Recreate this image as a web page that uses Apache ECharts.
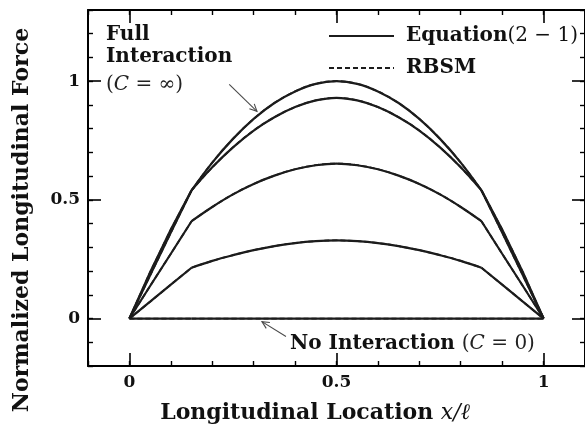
<!DOCTYPE html>
<html>
<head>
<meta charset="utf-8">
<script src="https://cdn.jsdelivr.net/npm/echarts@6/dist/echarts.min.js"></script>
<style>
  html, body { margin: 0; padding: 0; background: #fff; }
  #chart { width: 585px; height: 430px; }
</style>
</head>
<body>
<div id="chart"></div>
<script>
// Longitudinal positions x/l where the force profiles are sampled
const xPos = [0, 0.05, 0.1, 0.15, 0.2, 0.25, 0.3, 0.35, 0.4, 0.45, 0.5,
              0.55, 0.6, 0.65, 0.7, 0.75, 0.8, 0.85, 0.9, 0.95, 1];

// Normalized longitudinal force, one profile per interaction level
const fullInteraction = [0, 0.195, 0.375, 0.54, 0.657, 0.757, 0.841, 0.908, 0.957, 0.989, 1.0,
                         0.989, 0.957, 0.908, 0.841, 0.757, 0.657, 0.54, 0.375, 0.195, 0];
const highInteraction = [0, 0.182, 0.362, 0.54, 0.637, 0.721, 0.792, 0.848, 0.891, 0.919, 0.93,
                         0.919, 0.891, 0.848, 0.792, 0.721, 0.637, 0.54, 0.362, 0.182, 0];
const midInteraction  = [0, 0.137, 0.273, 0.41, 0.47, 0.523, 0.567, 0.602, 0.629, 0.646, 0.653,
                         0.646, 0.629, 0.602, 0.567, 0.523, 0.47, 0.41, 0.273, 0.137, 0];
const lowInteraction  = [0, 0.071, 0.143, 0.214, 0.243, 0.267, 0.288, 0.305, 0.318, 0.326, 0.329,
                         0.326, 0.318, 0.305, 0.288, 0.267, 0.243, 0.214, 0.143, 0.071, 0];
const noInteraction   = [0, 0, 0, 0, 0, 0, 0, 0, 0, 0, 0,
                         0, 0, 0, 0, 0, 0, 0, 0, 0, 0];

const profiles = [fullInteraction, highInteraction, midInteraction, lowInteraction, noInteraction];

// Tick values and their labels
const xMajorTicks = [0, 0.5, 1];
const yMajorTicks = [0, 0.5, 1];
const xTickLabels = ['0', '0.5', '1'];
const yTickLabels = ['0', '0.5', '1'];

const EQ_NAME = 'Equation(2 − 1)';
const RBSM_NAME = 'RBSM';

const SERIF = '"DejaVu Serif", serif';
const INK = '#1c1c1c';

// Each profile: straight end zones (to x = 0.15 / from x = 0.85) and a curved middle span
const spans = [
  { from: 0, to: 3, smooth: false },
  { from: 3, to: 17, smooth: 0.4 },
  { from: 17, to: 20, smooth: false }
];

const toPairs = (ys, a, b) => xPos.slice(a, b + 1).map((x, i) => [x, ys[a + i]]);

const chart = echarts.init(document.getElementById('chart'), null, { renderer: 'canvas' });

const X_MIN = -0.1, X_MAX = 1.1, Y_MIN = -0.2, Y_MAX = 1.3;
const xRange = { min: X_MIN, max: X_MAX };
const yRange = { min: Y_MIN, max: Y_MAX };

function pickLabel(ticks, labels) {
  return v => labels[ticks.indexOf(Math.round(v * 100) / 100)] || '';
}

// Frame axis with long ticks at the labelled values
function majorAxis(position, ticks, labels, showLabel, extra) {
  return Object.assign({
    type: 'value',
    position: position,
    axisLine: { show: true, onZero: false, lineStyle: { color: '#000', width: 2 } },
    axisTick: { show: true, inside: true, length: 13, customValues: ticks,
                lineStyle: { color: '#000', width: 1.6 } },
    axisLabel: {
      show: showLabel, customValues: ticks, margin: 8,
      fontFamily: SERIF, fontWeight: 'bold', fontSize: 17, color: '#111',
      formatter: pickLabel(ticks, labels)
    },
    splitLine: { show: false }
  }, extra);
}

// Overlaid axis carrying the short ticks every 0.1
function minorAxis(position, extra) {
  return Object.assign({
    type: 'value',
    position: position,
    interval: 0.1,
    axisLine: { show: false, onZero: false },
    axisTick: { show: true, inside: true, length: 5, lineStyle: { color: '#000', width: 1.4 } },
    axisLabel: { show: false },
    splitLine: { show: false }
  }, extra);
}

const series = [];
function addProfiles(name, z, lineStyle) {
  profiles.forEach(ys => {
    spans.forEach(sp => {
      series.push({
        name: name, type: 'line', data: toPairs(ys, sp.from, sp.to),
        symbol: 'none', smooth: sp.smooth,
        xAxisIndex: 0, yAxisIndex: 0, z: z,
        lineStyle: lineStyle, itemStyle: { color: INK }
      });
    });
  });
}
addProfiles(EQ_NAME, 3, { color: INK, width: 2.2, type: 'solid' });
addProfiles(RBSM_NAME, 4, { color: INK, width: 1.8, type: [5, 3] });

chart.setOption({
  animation: false,
  backgroundColor: '#fff',
  grid: { left: 88, top: 10, right: -1, bottom: 64, containLabel: false },
  xAxis: [
    majorAxis('bottom', xMajorTicks, xTickLabels, true, xRange),
    minorAxis('bottom', xRange),
    majorAxis('top', xMajorTicks, xTickLabels, false, xRange),
    minorAxis('top', xRange)
  ],
  yAxis: [
    majorAxis('left', yMajorTicks, yTickLabels, true, yRange),
    minorAxis('left', yRange),
    majorAxis('right', yMajorTicks, yTickLabels, false, yRange),
    minorAxis('right', yRange)
  ],
  legend: {
    data: [EQ_NAME, RBSM_NAME],
    orient: 'vertical',
    left: 328, top: 26, padding: 0,
    itemWidth: 65, itemHeight: 16, itemGap: 12,
    itemStyle: { opacity: 0 },
    formatter: name => name === EQ_NAME ? '{b|Equation}{m|(2 − 1)}' : '{b|RBSM}',
    textStyle: {
      padding: [0, 0, 0, 7],
      rich: {
        b: { fontFamily: SERIF, fontWeight: 'bold', fontSize: 20, color: '#111' },
        m: { fontFamily: SERIF, fontSize: 20, color: '#111' }
      }
    }
  },
  series: series
});

// Annotation arrows, anchored in data coordinates (tail -> tip)
const arrows = [
  { from: [0.241, 0.987], to: [0.308, 0.873] },
  { from: [0.378, -0.076], to: [0.320, -0.013] }
];

function arrowGraphics(a) {
  const p0 = chart.convertToPixel({ xAxisIndex: 0, yAxisIndex: 0 }, a.from);
  const p1 = chart.convertToPixel({ xAxisIndex: 0, yAxisIndex: 0 }, a.to);
  const ang = Math.atan2(p1[1] - p0[1], p1[0] - p0[0]);
  const len = 8, spread = 0.45;
  const h1 = [p1[0] - len * Math.cos(ang - spread), p1[1] - len * Math.sin(ang - spread)];
  const h2 = [p1[0] - len * Math.cos(ang + spread), p1[1] - len * Math.sin(ang + spread)];
  const st = { stroke: '#4a4a4a', lineWidth: 1.1, fill: null };
  return [
    { type: 'polyline', shape: { points: [p0, p1] }, style: st, z: 10 },
    { type: 'polyline', shape: { points: [h1, p1, h2] }, style: st, z: 10 }
  ];
}

const richText = {
  b: { fontFamily: SERIF, fontWeight: 'bold', fontSize: 20, fill: '#111', lineHeight: 22 },
  m: { fontFamily: SERIF, fontSize: 20, fill: '#222', lineHeight: 22 },
  i: { fontFamily: SERIF, fontStyle: 'italic', fontSize: 20, fill: '#222', lineHeight: 22 },
  g: { fontSize: 6, lineHeight: 6 }
};

const titleRich = {
  b: { fontFamily: SERIF, fontWeight: 'bold', fontSize: 22, fill: '#111' },
  i: { fontFamily: SERIF, fontStyle: 'italic', fontSize: 22, fill: '#111' }
};

const graphics = [].concat(
  arrowGraphics(arrows[0]),
  arrowGraphics(arrows[1]),
  [
    {
      type: 'text', left: 106, top: 25, z: 10,
      style: {
        text: '{b|Full}\n{b|Interaction}\n{g| }\n{m|(}{i|C}{m| = ∞)}',
        rich: richText
      }
    },
    {
      type: 'text', left: 290, top: 334, z: 10,
      style: {
        text: '{b|No Interaction }{m|(}{i|C}{m| = 0)}',
        rich: richText
      }
    },
    // axis titles
    {
      type: 'text', x: 315, y: 413, z: 10,
      style: {
        text: '{b|Longitudinal Location }{i|x/ℓ}',
        rich: titleRich, align: 'center', verticalAlign: 'middle'
      }
    },
    {
      type: 'text', x: 22, y: 220, rotation: Math.PI / 2, z: 10,
      style: {
        text: '{b|Normalized Longitudinal Force}',
        rich: titleRich, align: 'center', verticalAlign: 'middle'
      }
    }
  ]
);

chart.setOption({ graphic: graphics });
</script>
</body>
</html>
